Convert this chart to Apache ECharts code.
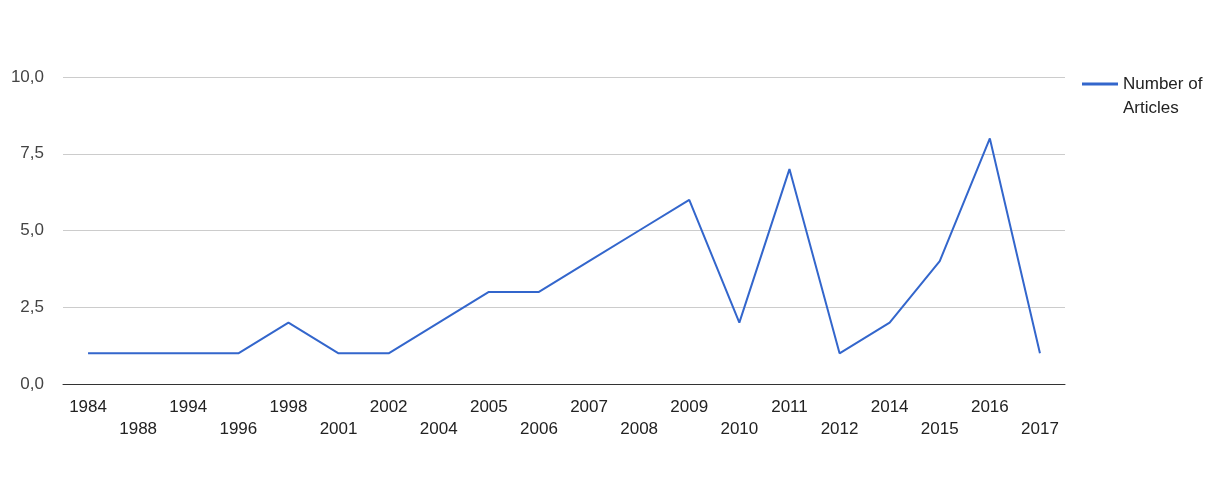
<!DOCTYPE html>
<html>
<head>
<meta charset="utf-8">
<script src="https://cdn.jsdelivr.net/npm/echarts@6/dist/echarts.min.js"></script>
<style>
html,body{margin:0;padding:0;background:#fff;}
#chart{width:1213px;height:489px;}
</style>
</head>
<body>
<div id="chart"></div>
<script>
const categories = ['1984','1988','1994','1996','1998','2001','2002','2004','2005','2006','2007','2008','2009','2010','2011','2012','2014','2015','2016','2017'];
const articles = [1,1,1,1,2,1,1,2,3,3,4,5,6,2,7,1,2,4,8,1];
const seriesName = 'Number of Articles';

const chart = echarts.init(document.getElementById('chart'), null, {renderer:'canvas'});
chart.setOption({
  backgroundColor:'#fff',
  animation:false,
  textStyle:{fontFamily:'Liberation Sans, Arial, sans-serif'},
  grid:{left:63, right:148, top:77, bottom:105},
  legend:{
    left:1077, top:43,
    orient:'vertical',
    icon:'rect', itemWidth:36, itemHeight:3, itemGap:8,
    formatter:function(){ return ' \nNumber of\nArticles'; },
    textStyle:{fontSize:17, color:'#222', lineHeight:24},
    data:[seriesName]
  },
  xAxis:{
    type:'category',
    data:categories,
    boundaryGap:true,
    axisLine:{show:true, lineStyle:{color:'#333', width:1}},
    axisTick:{show:false},
    axisLabel:{
      interval:0, fontSize:17, color:'#222', margin:12, lineHeight:22,
      formatter:function(v, i){ return i % 2 ? '\n' + v : v; }
    }
  },
  yAxis:{
    type:'value', min:0, max:10, interval:2.5,
    axisLine:{show:false}, axisTick:{show:false},
    splitLine:{lineStyle:{color:'#cccccc', width:1}},
    axisLabel:{fontSize:17, color:'#444', margin:19,
      formatter:function(v){ return v.toFixed(1).replace('.', ','); }}
  },
  series:[{
    name:seriesName,
    type:'line',
    data:articles,
    showSymbol:false,
    symbol:'none',
    lineStyle:{color:'#3366cc', width:2},
    itemStyle:{color:'#3366cc'}
  }]
});
</script>
</body>
</html>
